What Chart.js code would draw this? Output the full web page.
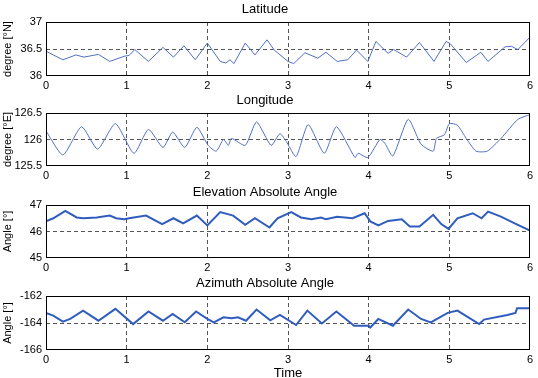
<!DOCTYPE html>
<html>
<head>
<meta charset="utf-8">
<script src="https://cdn.jsdelivr.net/npm/chart.js@4"></script>
<style>
body { margin: 0; background: #fff; }
#wrap { position: relative; width: 538px; height: 378px; overflow: hidden; }
canvas { position: absolute; left: 0; }
</style>
</head>
<body>
<div id="wrap">
<canvas id="latChart" width="538" height="92" style="top:0px"></canvas>
<canvas id="lonChart" width="538" height="91" style="top:91px"></canvas>
<canvas id="elevChart" width="538" height="91" style="top:183px"></canvas>
<canvas id="azChart" width="538" height="104" style="top:274px"></canvas>
</div>
<script>
// values
const timeTicks = [0, 1, 2, 3, 4, 5, 6];

const latTime = [0, 0.09, 0.21, 0.37, 0.47, 0.65, 0.79, 0.98, 1.03, 1.10, 1.27, 1.45, 1.58, 1.71, 1.85, 2.00, 2.16, 2.23, 2.28, 2.33, 2.47, 2.59, 2.74, 2.83, 3.00, 3.07, 3.21, 3.37, 3.47, 3.61, 3.74, 3.85, 3.99, 4.09, 4.24, 4.31, 4.47, 4.63, 4.81, 4.96, 5.01, 5.21, 5.39, 5.48, 5.69, 5.77, 5.85, 6.00];
const latValues = [36.46, 36.39, 36.30, 36.39, 36.35, 36.40, 36.27, 36.37, 36.38, 36.49, 36.27, 36.53, 36.35, 36.56, 36.30, 36.61, 36.27, 36.24, 36.30, 36.23, 36.61, 36.39, 36.67, 36.48, 36.27, 36.23, 36.43, 36.33, 36.44, 36.27, 36.30, 36.48, 36.27, 36.64, 36.42, 36.49, 36.35, 36.62, 36.27, 36.64, 36.60, 36.25, 36.44, 36.27, 36.54, 36.55, 36.49, 36.72];

const lonTime = [0, 0.21, 0.44, 0.64, 0.86, 1.09, 1.27, 1.45, 1.57, 1.72, 1.87, 2.01, 2.11, 2.20, 2.26, 2.30, 2.47, 2.61, 2.79, 2.90, 2.98, 3.10, 3.25, 3.45, 3.60, 3.83, 3.87, 3.99, 4.14, 4.20, 4.30, 4.49, 4.65, 4.80, 4.84, 4.94, 5.00, 5.10, 5.21, 5.33, 5.47, 5.64, 5.85, 6.00];
const lonValues = [126.16, 125.71, 126.24, 125.82, 126.30, 125.74, 126.19, 125.85, 126.14, 125.85, 126.23, 125.89, 125.78, 126.00, 125.89, 126.02, 125.89, 126.33, 125.89, 126.11, 125.96, 125.68, 126.28, 125.74, 126.24, 125.66, 125.74, 125.66, 126.00, 125.93, 125.69, 126.38, 125.91, 125.78, 126.02, 126.09, 126.30, 126.27, 126.02, 125.78, 125.78, 126.02, 126.38, 126.47];

const elevTime = [0, 0.09, 0.24, 0.38, 0.46, 0.63, 0.79, 0.87, 0.97, 1.03, 1.24, 1.44, 1.58, 1.70, 1.87, 2.00, 2.16, 2.32, 2.47, 2.59, 2.77, 2.87, 3.04, 3.16, 3.29, 3.41, 3.47, 3.61, 3.80, 3.95, 4.02, 4.12, 4.24, 4.41, 4.51, 4.63, 4.80, 4.90, 4.99, 5.10, 5.29, 5.40, 5.48, 5.64, 5.81, 6.00];
const elevValues = [46.38, 46.50, 46.78, 46.53, 46.50, 46.53, 46.60, 46.50, 46.46, 46.50, 46.60, 46.28, 46.50, 46.31, 46.60, 46.23, 46.73, 46.60, 46.25, 46.50, 46.15, 46.50, 46.73, 46.53, 46.46, 46.53, 46.46, 46.56, 46.50, 46.69, 46.38, 46.23, 46.40, 46.46, 46.19, 46.19, 46.63, 46.28, 46.10, 46.50, 46.69, 46.50, 46.75, 46.56, 46.31, 46.03];

const azTime = [0, 0.09, 0.21, 0.30, 0.46, 0.65, 0.86, 1.08, 1.27, 1.45, 1.57, 1.72, 1.86, 2.00, 2.08, 2.20, 2.30, 2.38, 2.48, 2.61, 2.78, 2.90, 3.10, 3.24, 3.42, 3.60, 3.82, 4.00, 4.02, 4.12, 4.30, 4.49, 4.65, 4.77, 4.98, 5.10, 5.37, 5.43, 5.72, 5.82, 5.84, 6.00];
const azValues = [-163.25, -163.45, -163.90, -163.70, -163.08, -163.83, -162.95, -164.08, -163.15, -163.83, -163.33, -163.95, -163.15, -163.70, -163.95, -163.58, -163.65, -163.58, -163.83, -163.00, -163.80, -163.40, -164.15, -163.08, -164.03, -163.15, -164.20, -164.20, -164.33, -163.70, -164.20, -163.00, -163.70, -163.95, -163.25, -163.08, -164.08, -163.75, -163.40, -163.25, -162.90, -162.90];

const FONT = '"Liberation Sans", Arial, sans-serif';
const DASH = '#555';
const NONE = 'rgba(0,0,0,0)';

// black frame round the plot area
const boxPlugin = {
    id: 'box',
    afterDraw(chart) {
        const a = chart.chartArea;
        const ctx = chart.ctx;
        ctx.save();
        ctx.strokeStyle = '#000';
        ctx.lineWidth = 1;
        ctx.strokeRect(Math.round(a.left) + 0.5, Math.round(a.top) + 0.5,
            Math.round(a.right - a.left) - 1, Math.round(a.bottom - a.top) - 1);
        ctx.restore();
    }
};

function makeChart(id, opt) {
    const ctx = document.getElementById(id).getContext('2d');
    return new Chart(ctx, {
        type: 'line',
        data: {
            datasets: [{
                data: opt.xs.map((t, i) => ({ x: t, y: opt.ys[i] })),
                borderColor: opt.color,
                borderWidth: opt.width,
                pointRadius: 0,
                tension: opt.tension || 0,
                fill: false
            }]
        },
        options: {
            responsive: false,
            animation: false,
            devicePixelRatio: 1,
            layout: { padding: { left: 0, right: 8, top: 0, bottom: 0 } },
            plugins: {
                legend: { display: false },
                tooltip: { enabled: false },
                title: {
                    display: true,
                    text: opt.title,
                    color: '#000',
                    font: { family: FONT, size: 13, weight: 'normal', lineHeight: '14px' },
                    padding: { top: 2, bottom: 6 }
                }
            },
            scales: {
                x: {
                    type: 'linear',
                    min: 0,
                    max: 6,
                    afterBuildTicks: s => { s.ticks = timeTicks.map(v => ({ value: v })); },
                    afterFit: s => { s.height = opt.axisHeight || 16; },
                    grid: {
                        drawTicks: false,
                        color: c => (c.tick && (c.tick.value === 0 || c.tick.value === 6)) ? NONE : DASH
                    },
                    border: { display: false, dash: [4, 3] },
                    ticks: { padding: 3, color: '#000', font: { family: FONT, size: 11 }, maxRotation: 0 },
                    title: {
                        display: !!opt.xTitle,
                        text: opt.xTitle || '',
                        color: '#000',
                        font: { family: FONT, size: 13, lineHeight: '10px' },
                        padding: 0
                    }
                },
                y: {
                    min: opt.min,
                    max: opt.max,
                    ticks: {
                        stepSize: opt.step,
                        padding: 4,
                        color: '#000',
                        font: { family: FONT, size: 11 },
                        callback: v => String(v)
                    },
                    afterFit: s => { s.width = 46; },
                    grid: {
                        drawTicks: false,
                        color: c => (c.tick && Math.abs(c.tick.value - opt.mid) < 1e-6) ? DASH : NONE
                    },
                    border: { display: false, dash: [4, 3] },
                    title: {
                        display: true,
                        text: opt.yTitle,
                        color: '#000',
                        font: { family: FONT, size: 11 },
                        padding: { top: 1, bottom: 0 }
                    }
                }
            }
        },
        plugins: [boxPlugin]
    });
}

makeChart('latChart', {
    title: 'Latitude', yTitle: 'degree [°N]',
    min: 36, max: 37, step: 0.5, mid: 36.5,
    xs: latTime, ys: latValues, color: '#4f6fc4', width: 1
});

makeChart('lonChart', {
    title: 'Longitude', yTitle: 'degree [°E]',
    min: 125.5, max: 126.5, step: 0.5, mid: 126,
    xs: lonTime, ys: lonValues, color: '#4f6fc4', width: 1, tension: 0.2
});

makeChart('elevChart', {
    title: 'Elevation Absolute Angle', yTitle: 'Angle [°]',
    min: 45, max: 47, step: 1, mid: 46,
    xs: elevTime, ys: elevValues, color: '#2f5cbd', width: 2
});

makeChart('azChart', {
    title: 'Azimuth Absolute Angle', yTitle: 'Angle [°]',
    min: -166, max: -162, step: 2, mid: -164,
    xs: azTime, ys: azValues, color: '#2f5cbd', width: 2,
    xTitle: 'Time', axisHeight: 28
});
</script>
</body>
</html>
